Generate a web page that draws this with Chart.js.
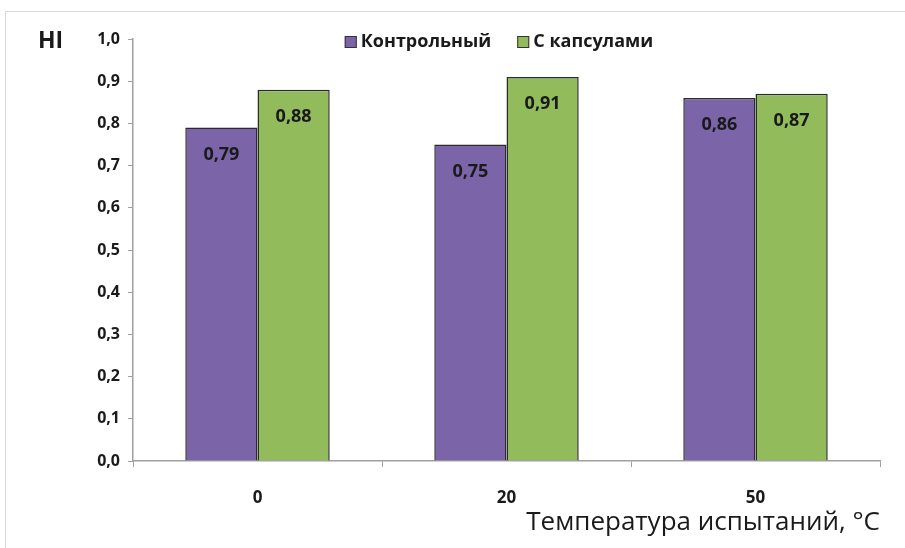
<!DOCTYPE html>
<html>
<head>
<meta charset="utf-8">
<script src="https://cdn.jsdelivr.net/npm/chart.js@4"></script>
<style>
  html, body { margin: 0; padding: 0; background: #fff; }
  #wrap { width: 905px; height: 548px; position: relative; }
</style>
</head>
<body>
<div id="wrap"><canvas id="chart"></canvas></div>
<script>
const categories = ['0', '20', '50'];
const controlValues = [0.79, 0.75, 0.86];
const capsuleValues = [0.88, 0.91, 0.87];
const seriesNames = ['Контрольный', 'С капсулами'];
const xTitle = 'Температура испытаний, °C';

const FONT = '"Open Sans", sans-serif';

// value labels, "HI" label, legend row, x title and the light frame
const extras = {
    id: 'extras',
    beforeDraw(chart) {
        const ctx = chart.ctx;
        ctx.save();
        ctx.strokeStyle = '#d9d9d9';
        ctx.lineWidth = 1;
        ctx.strokeRect(5.5, 11.5, 905, 548);
        ctx.restore();
    },
    afterDatasetsDraw(chart) {
        const ctx = chart.ctx;
        const area = chart.chartArea;
        ctx.save();
        ctx.font = 'bold 18px ' + FONT;
        ctx.fillStyle = '#1a1a1a';
        ctx.textAlign = 'center';
        ctx.textBaseline = 'middle';
        chart.data.datasets.forEach((ds, i) => {
            chart.getDatasetMeta(i).data.forEach((bar, j) => {
                ctx.fillText(ds.data[j].toFixed(2).replace('.', ','), bar.x, bar.y + 27);
            });
        });

        ctx.font = 'bold 23px ' + FONT;
        ctx.textAlign = 'left';
        ctx.fillText('HI', 38, 41);

        // x axis title, right aligned
        ctx.font = '26px ' + FONT;
        ctx.textAlign = 'right';
        ctx.fillText(xTitle, area.right, area.bottom + 62);

        // legend
        ctx.textAlign = 'left';
        ctx.font = 'bold 18px ' + FONT;
        const box = 12, gap = 4, between = 26;
        const items = chart.data.datasets.map(ds => ({
            text: ds.label, color: ds.backgroundColor, w: box + gap + ctx.measureText(ds.label).width
        }));
        const total = items.reduce((s, it) => s + it.w, 0) + between * (items.length - 1);
        let x = 499 - total / 2;
        const y = 42;
        items.forEach(it => {
            ctx.fillStyle = it.color;
            ctx.fillRect(x, y - box / 2, box, box);
            ctx.strokeStyle = '#333';
            ctx.lineWidth = 1;
            ctx.strokeRect(x + 0.5, y - box / 2 + 0.5, box - 1, box - 1);
            ctx.fillStyle = '#1a1a1a';
            ctx.fillText(it.text, x + box + gap, y);
            x += it.w + between;
        });
        ctx.restore();
    }
};

new Chart(document.getElementById('chart'), {
    type: 'bar',
    data: {
        labels: categories,
        datasets: [{
            label: seriesNames[0],
            data: controlValues,
            backgroundColor: '#7b64a8',
            borderColor: '#2b2b2b',
            borderWidth: 1.5,
            categoryPercentage: 0.58,
            barPercentage: 1
        }, {
            label: seriesNames[1],
            data: capsuleValues,
            backgroundColor: '#92bb5c',
            borderColor: '#2b2b2b',
            borderWidth: 1.5,
            categoryPercentage: 0.58,
            barPercentage: 1
        }]
    },
    options: {
        responsive: true,
        maintainAspectRatio: false,
        animation: false,
        layout: { padding: { top: 39, right: 25, left: 0, bottom: 0 } },
        plugins: {
            legend: { display: false },
            tooltip: { enabled: false }
        },
        scales: {
            x: {
                afterFit(scale) { scale.height = 87; },
                grid: { display: true, drawOnChartArea: false, offset: true, color: '#a0a0a0', tickLength: 6 },
                border: { color: '#a0a0a0', width: 1.5 },
                ticks: { color: '#1a1a1a', padding: 21, font: { family: FONT, size: 17, weight: 'bold' } }
            },
            y: {
                min: 0,
                max: 1,
                afterFit(scale) { scale.width = 133; },
                grid: { display: true, drawOnChartArea: false, color: '#a0a0a0', tickLength: 5 },
                border: { color: '#a0a0a0', width: 1.5 },
                ticks: {
                    stepSize: 0.1,
                    color: '#1a1a1a',
                    padding: 8,
                    font: { family: FONT, size: 16, weight: 'bold' },
                    callback: v => v.toFixed(1).replace('.', ',')
                }
            }
        }
    },
    plugins: [extras]
});
</script>
</body>
</html>
